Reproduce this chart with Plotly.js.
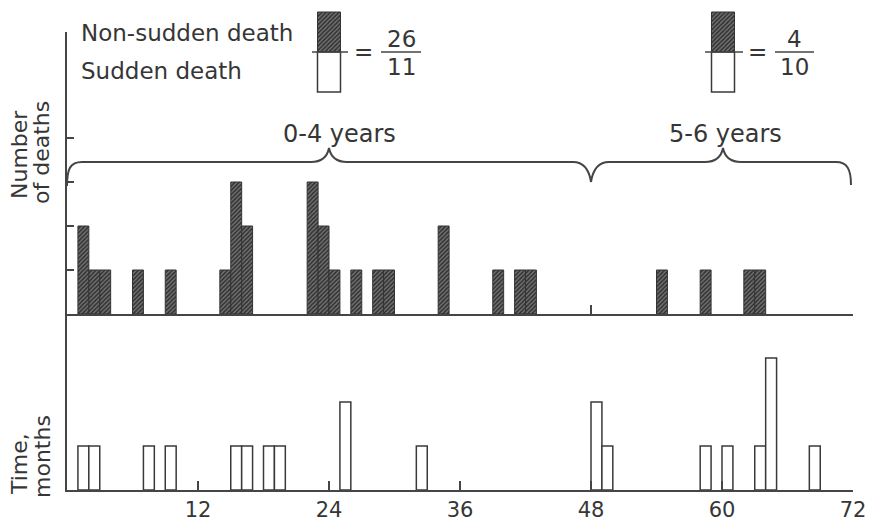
<!DOCTYPE html>
<html>
<head>
<meta charset="utf-8">
<script src="https://cdn.plot.ly/plotly-3.0.1.min.js"></script>
<style>
  html, body { margin: 0; padding: 0; background: #ffffff; }
  #chart { width: 870px; height: 526px; }
</style>
</head>
<body>
<div id="chart"></div>
<script>
// ---- Data ----
// Start month of each one-month bin and number of deaths in it
const nonSuddenMonths = [1, 2, 3, 6, 9, 14, 15, 16, 22, 23, 24, 26, 28, 29, 34, 39, 41, 42, 54, 58, 62, 63];
const nonSuddenCounts = [2, 1, 1, 1, 1, 1, 3, 2, 3, 2, 1, 1, 1, 1, 2, 1, 1, 1, 1, 1, 1, 1];
const suddenMonths = [1, 2, 7, 9, 15, 16, 18, 19, 25, 32, 48, 49, 58, 60, 63, 64, 68];
const suddenCounts = [1, 1, 1, 1, 1, 1, 1, 1, 2, 1, 2, 1, 1, 1, 1, 3, 1];
const xTickVals = [12, 24, 36, 48, 60, 72];
const xTickText = ['12', '24', '36', '48', '60', '72'];
const periodLabels = ['0-4 years', '5-6 years'];
const ratioNonSudden = ['26', '4'];
const ratioSudden = ['11', '10'];
const seriesNames = ['Non-sudden death', 'Sudden death'];
const yTitleTop = ['Number', 'of deaths'];
const yTitleBottom = ['Time,', 'months'];

// ---- Layout geometry (pixels) ----
const W = 870, H = 526;
const ML = 67, MR = 17, MT = 0, MB = 36;
const PW = W - ML - MR, PH = H - MT - MB;
const xp = px => (px - ML) / PW;          // pixel x -> paper
const yp = py => (H - MB - py) / PH;      // pixel y -> paper
const UNIT = 44;                           // pixels per death
const topBase = 314, topTop = 32, botBase = 490;

const FONT = 'DejaVu Sans, Liberation Sans, Arial, sans-serif';
const TXT = '#363636';
const LINE = '#454545';

const hatch = {
  shape: '/', fgcolor: '#2f2f2f', bgcolor: '#737373', size: 3, solidity: 0.5, fillmode: 'replace'
};

const centers = arr => arr.map(m => m + 0.5);

const traces = [
  {
    type: 'bar', name: seriesNames[0], xaxis: 'x', yaxis: 'y',
    x: centers(nonSuddenMonths), y: nonSuddenCounts, width: 1,
    marker: { color: '#737373', pattern: hatch, line: { color: '#333333', width: 1 } },
    hoverinfo: 'x+y'
  },
  {
    type: 'bar', name: seriesNames[1], xaxis: 'x2', yaxis: 'y2',
    x: centers(suddenMonths), y: suddenCounts, width: 1,
    marker: { color: '#ffffff', line: { color: '#3a3a3a', width: 1.5 } },
    hoverinfo: 'x+y'
  },
  // key swatches (pixel-mapped overlay axes)
  {
    type: 'bar', xaxis: 'x3', yaxis: 'y3', showlegend: false, hoverinfo: 'skip',
    x: [329, 723], base: [12, 12], y: [40, 40], width: 23,
    marker: { color: '#737373', pattern: hatch, line: { color: '#333333', width: 1 } }
  },
  {
    type: 'bar', xaxis: 'x3', yaxis: 'y3', showlegend: false, hoverinfo: 'skip',
    x: [329, 723], base: [52, 52], y: [40, 40], width: 23,
    marker: { color: '#ffffff', line: { color: '#3a3a3a', width: 1.5 } }
  }
];

const shapes = [];
// key dividing lines and fraction bars
[[312, 348], [705, 743], [381, 421], [775, 814]].forEach(([a, b]) => shapes.push({
  type: 'line', xref: 'paper', yref: 'paper', x0: xp(a), x1: xp(b), y0: yp(52), y1: yp(52),
  line: { color: LINE, width: 1.5 }
}));
// braces
function pathFrom(pts) {
  return pts.map(p => {
    if (typeof p === 'string') return p;
    return xp(p[0]).toFixed(5) + ',' + yp(p[1]).toFixed(5);
  }).join(' ');
}
const brace1 = pathFrom(['M', [67, 186], 'C', [67, 169], [70, 162], [82, 162], 'L', [311, 162],
  'C', [321, 162], [327, 158], [329, 148], 'C', [331, 158], [337, 162], [347, 162],
  'L', [573, 162], 'C', [583, 162], [589, 169], [591, 182]]);
const brace2 = pathFrom(['M', [591, 182], 'C', [593, 169], [599, 162], [609, 162], 'L', [705, 162],
  'C', [715, 162], [721, 158], [723, 148], 'C', [725, 158], [731, 162], [741, 162],
  'L', [836, 162], 'C', [847, 162], [851, 169], [851, 185]]);
[brace1, brace2].forEach(p => shapes.push({
  type: 'path', xref: 'paper', yref: 'paper', path: p, line: { color: LINE, width: 2 }
}));

const ann = (text, x, y, opts = {}) => Object.assign({
  text, xref: 'paper', yref: 'paper', x: xp(x), y: yp(y), showarrow: false,
  xanchor: 'center', yanchor: 'middle', font: { family: FONT, size: 23, color: TXT }
}, opts);
const big = { family: FONT, size: 24, color: TXT };
const rot = { family: FONT, size: 22, color: TXT };

const annotations = [
  ann(seriesNames[0], 79, 33, { xanchor: 'left' }),
  ann(seriesNames[1], 79, 71, { xanchor: 'left' }),
  ann('=', 363, 52),
  ann(ratioNonSudden[0], 401, 39),
  ann(ratioSudden[0], 401, 67),
  ann('=', 757, 52),
  ann(ratioNonSudden[1], 794, 39),
  ann(ratioSudden[1], 794, 67),
  ann(periodLabels[0], 339, 134, { font: big }),
  ann(periodLabels[1], 725, 134, { font: big }),
  ann(yTitleTop[0], 19, 155, { textangle: -90, font: rot }),
  ann(yTitleTop[1], 42, 153, { textangle: -90, font: rot }),
  ann(yTitleBottom[0], 19, 464, { textangle: -90, font: rot }),
  ann(yTitleBottom[1], 42, 457, { textangle: -90, font: rot })
];

const axisCommon = { showgrid: false, zeroline: false, fixedrange: true, linecolor: LINE, linewidth: 1.8, tickcolor: LINE };

const layout = {
  width: W, height: H,
  margin: { l: ML, r: MR, t: MT, b: MB, pad: 0 },
  paper_bgcolor: '#ffffff', plot_bgcolor: 'rgba(0,0,0,0)',
  showlegend: false, barmode: 'overlay', bargap: 0,
  font: { family: FONT, color: TXT },
  xaxis: Object.assign({}, axisCommon, {
    domain: [0, 1], anchor: 'y', range: [0, 72], showline: true,
    tickvals: [48, 72], ticks: 'inside', ticklen: 9, tickwidth: 1.8, showticklabels: false
  }),
  yaxis: Object.assign({}, axisCommon, {
    domain: [yp(topBase), yp(topTop)], anchor: 'x', range: [0, (topBase - topTop) / UNIT],
    showline: true, tickvals: [1, 2, 3, 4], ticks: 'inside', ticklen: 7, tickwidth: 1.5, showticklabels: false
  }),
  xaxis2: Object.assign({}, axisCommon, {
    domain: [0, 1], anchor: 'y2', range: [0, 72], showline: true,
    tickvals: xTickVals, ticktext: xTickText, ticks: 'inside', ticklen: 9, tickwidth: 1.8,
    tickfont: { family: FONT, size: 21, color: TXT }
  }),
  yaxis2: Object.assign({}, axisCommon, {
    domain: [0, yp(topBase)], anchor: 'x2', range: [0, (botBase - topBase) / UNIT],
    showline: true, ticks: '', showticklabels: false
  }),
  xaxis3: { domain: [0, 1], anchor: 'y3', range: [ML, W - MR], visible: false, fixedrange: true },
  yaxis3: { domain: [0, 1], anchor: 'x3', range: [H - MB, MT], visible: false, fixedrange: true },
  shapes, annotations
};

Plotly.newPlot('chart', traces, layout, { displayModeBar: false, staticPlot: true });
</script>
</body>
</html>
